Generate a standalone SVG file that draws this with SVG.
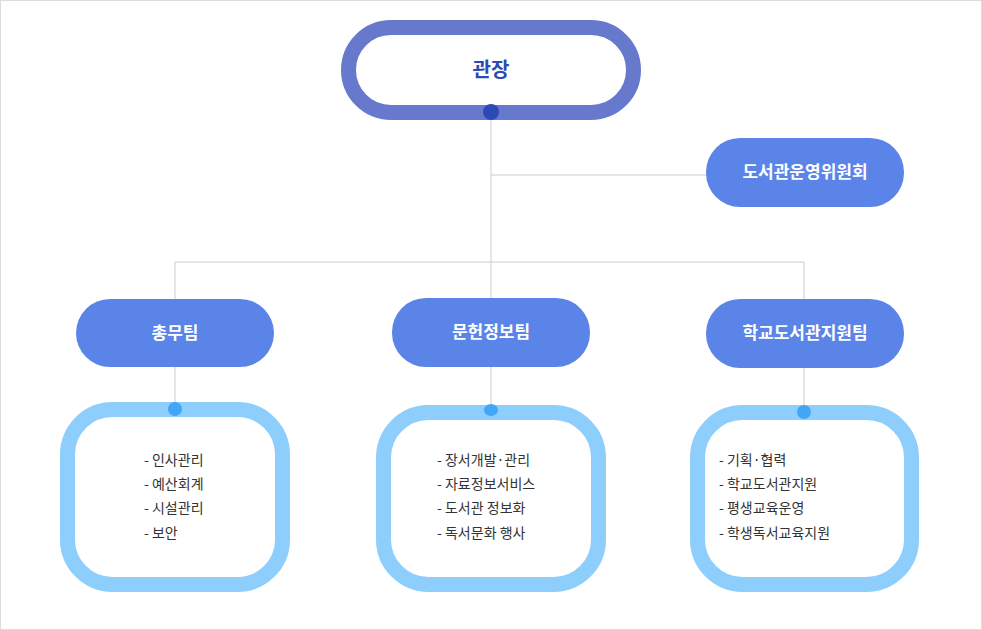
<svg xmlns="http://www.w3.org/2000/svg" width="982" height="630" viewBox="0 0 982 630">
<style>
.t{font-family:"Noto Sans CJK KR","Noto Sans",sans-serif}
.team{fill:#5b84e8}
.tl{fill:#fff;font-size:17px;font-weight:bold;text-anchor:middle}
.box{fill:#fff;stroke:#8ecefd;stroke-width:15}
.li{fill:#333;font-size:14px}
.dot{fill:#42a5f5}
#conn line{stroke:#ccc;stroke-width:1}
</style>
<rect x="0.5" y="0.5" width="981" height="629" fill="#fff" stroke="#ddd"/>
<g id="conn">
<line x1="491" y1="120" x2="491" y2="299"/>
<line x1="491" y1="175" x2="706" y2="175"/>
<line x1="175" y1="262" x2="804" y2="262"/>
<line x1="175" y1="262" x2="175" y2="299"/>
<line x1="804" y1="262" x2="804" y2="299"/>
<line x1="175" y1="367" x2="175" y2="402"/>
<line x1="491" y1="367" x2="491" y2="405"/>
<line x1="804" y1="368" x2="804" y2="405"/>
</g>
<g id="top">
<rect x="348.5" y="27.5" width="285" height="85" rx="42.5" fill="#fff" stroke="#6679cc" stroke-width="15"/>
<circle cx="491" cy="112" r="8" fill="#2c4ab5"/>
<text class="t" x="491" y="77" font-size="20" font-weight="bold" fill="#2c4ab5" text-anchor="middle">관장</text>
</g>
<g id="committee">
<rect class="team" x="706" y="138" width="198" height="69" rx="34"/>
<text class="t tl" x="805" y="178">도서관운영위원회</text>
</g>
<g id="team1">
<rect class="team" x="76" y="299" width="198" height="68" rx="34"/>
<text class="t tl" x="175" y="339">총무팀</text>
</g>
<g id="team2">
<rect class="team" x="392" y="298" width="198" height="69" rx="34"/>
<text class="t tl" x="491" y="338">문헌정보팀</text>
</g>
<g id="team3">
<rect class="team" x="706" y="299" width="198" height="69" rx="34"/>
<text class="t tl" x="805" y="339">학교도서관지원팀</text>
</g>
<g id="box1">
<rect class="box" x="67.5" y="409.5" width="215" height="175" rx="45"/>
<circle class="dot" cx="175" cy="409" r="7"/>
<text class="t li" x="144" y="465">- 인사관리</text>
<text class="t li" x="144" y="489">- 예산회계</text>
<text class="t li" x="144" y="513">- 시설관리</text>
<text class="t li" x="144" y="538">- 보안</text>
</g>
<g id="box2">
<rect class="box" x="383.5" y="412.5" width="215" height="172" rx="45"/>
<ellipse class="dot" cx="491" cy="410" rx="7" ry="6"/>
<text class="t li" x="437" y="465">- 장서개발·관리</text>
<text class="t li" x="437" y="489">- 자료정보서비스</text>
<text class="t li" x="437" y="513">- 도서관 정보화</text>
<text class="t li" x="437" y="538">- 독서문화 행사</text>
</g>
<g id="box3">
<rect class="box" x="697.5" y="412.5" width="214" height="172" rx="45"/>
<circle class="dot" cx="804" cy="412" r="7"/>
<text class="t li" x="719" y="465">- 기획·협력</text>
<text class="t li" x="719" y="489">- 학교도서관지원</text>
<text class="t li" x="719" y="513">- 평생교육운영</text>
<text class="t li" x="719" y="538">- 학생독서교육지원</text>
</g>
</svg>
